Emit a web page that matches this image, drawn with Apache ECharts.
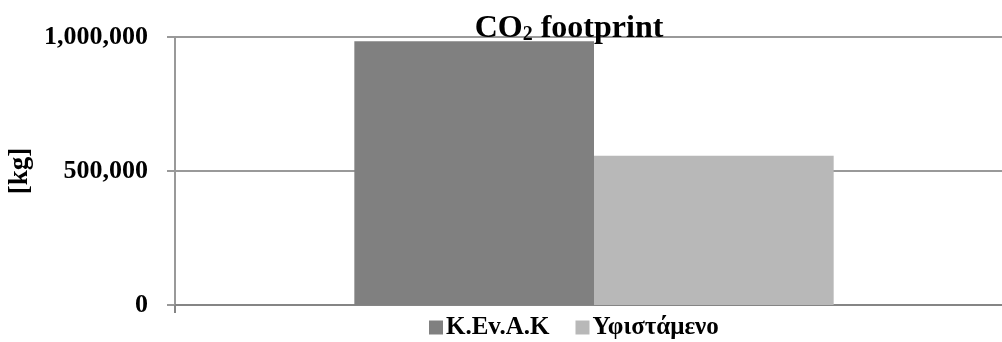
<!DOCTYPE html>
<html>
<head>
<meta charset="utf-8">
<script src="https://cdn.jsdelivr.net/npm/echarts@6/dist/echarts.min.js"></script>
<style>
  html, body { margin: 0; padding: 0; background: #fff; }
  #chart { width: 1002px; height: 342px; }
</style>
</head>
<body>
<div id="chart"></div>
<script>
// CO2 footprint comparison (kg)
const categories = [''];
const seriesNames = ['K.Ev.A.K', 'Υφιστάμενο'];
const kevakValues = [984000];
const existingValues = [557000];
const yTicks = [0, 500000, 1000000];

const serif = '"Liberation Serif", "DejaVu Serif", serif';
const fmt = v => v.toLocaleString('en-US');

const chart = echarts.init(document.getElementById('chart'), null, { renderer: 'canvas' });
chart.setOption({
  animation: false,
  backgroundColor: '#ffffff',
  title: {
    text: '{b|CO}{s|2}{b| footprint}',
    left: 564,
    textAlign: 'center',
    top: 7,
    textStyle: {
      rich: {
        b: { fontFamily: serif, fontWeight: 'bold', fontSize: 32, color: '#000' },
        s: { fontFamily: serif, fontWeight: 'bold', fontSize: 20, color: '#000', verticalAlign: 'bottom', padding: [13, 0, 0, 0] }
      }
    }
  },
  legend: {
    top: 310,
    left: 424,
    itemWidth: 14,
    itemHeight: 14,
    itemGap: 26,
    icon: 'rect',
    textStyle: { fontFamily: serif, fontWeight: 'bold', fontSize: 25, color: '#000', padding: [0, 0, 0, -2] },
    data: seriesNames
  },
  grid: { left: 175, right: -11, top: 37, bottom: 37, containLabel: false, outerBoundsMode: 'none' },
  xAxis: {
    type: 'category',
    data: categories,
    axisLine: { lineStyle: { color: '#858585', width: 2 } },
    axisTick: { show: true, length: 8, lineStyle: { color: '#858585', width: 2 } },
    axisLabel: { show: false }
  },
  yAxis: {
    type: 'value',
    min: yTicks[0],
    max: yTicks[yTicks.length - 1],
    interval: yTicks[1] - yTicks[0],
    name: '[kg]',
    nameLocation: 'middle',
    nameRotate: 90,
    nameGap: 138,
    nameTextStyle: { fontFamily: serif, fontWeight: 'bold', fontSize: 27, color: '#000' },
    axisLine: { show: true, lineStyle: { color: '#999', width: 2 } },
    axisTick: { show: true, length: 8, lineStyle: { color: '#999', width: 2 } },
    splitLine: { lineStyle: { color: '#999', width: 2 } },
    axisLabel: {
      formatter: v => fmt(v),
      margin: 27,
      fontFamily: serif,
      fontWeight: 'bold',
      fontSize: 26,
      color: '#000'
    }
  },
  series: [
    {
      name: seriesNames[0],
      type: 'bar',
      data: kevakValues,
      itemStyle: { color: '#808080' },
      barGap: '0%',
      barCategoryGap: '42.8%'
    },
    {
      name: seriesNames[1],
      type: 'bar',
      data: existingValues,
      itemStyle: { color: '#b8b8b8' },
      barGap: '0%',
      barCategoryGap: '42.8%'
    }
  ]
});
</script>
</body>
</html>
